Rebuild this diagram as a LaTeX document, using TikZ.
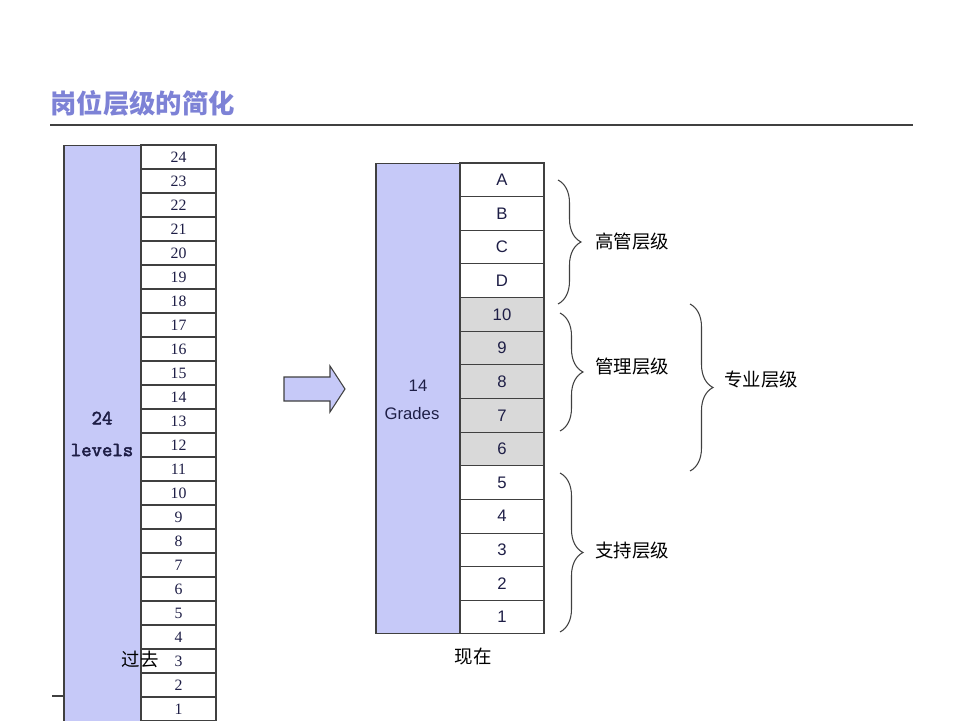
\documentclass[tikz,border=0pt]{standalone}
\usepackage{fontspec}
\usetikzlibrary{decorations.pathreplacing}
\newfontfamily\cjk{Noto Sans CJK SC}
\newfontfamily\numfont{Liberation Serif}
\newfontfamily\gradefont{Liberation Sans}
\newfontfamily\levelfont[FakeBold=2.5]{Latin Modern Mono}
\definecolor{barblue}{RGB}{198,201,248}
\definecolor{edge}{RGB}{64,64,64}
\definecolor{ink}{RGB}{30,30,70}
\definecolor{titleblue}{RGB}{125,130,214}
\definecolor{cellgrey}{RGB}{217,217,217}
\tikzset{
  bar/.style={draw=edge,fill=barblue,inner sep=0pt},
  oldcell/.style={draw=edge,fill=white,minimum width=1.5cm,minimum height=0.48cm,inner sep=0pt,
    text=ink,font=\numfont\fontsize{9}{9}\selectfont},
  newcell/.style={draw=edge,minimum width=1.68cm,minimum height=0.6728cm,inner sep=0pt,
    text=ink,font=\gradefont\fontsize{9.5}{10}\selectfont},
  grpbrace/.style={decorate,decoration={brace,amplitude=0.46cm},draw=edge,line width=0.6pt},
  grplabel/.style={anchor=west,inner sep=0pt,font=\cjk\fontsize{10.5}{12}\selectfont}
}
\begin{document}
\begin{tikzpicture}[x=0.02cm,y=-0.02cm,line width=0.6pt]
  \clip (0,0) rectangle (960,720);
  \fill[white] (0,0) rectangle (960,720);
  \node[anchor=west,inner sep=0pt,text=titleblue,font=\cjk\bfseries\fontsize{15}{18}\selectfont] (title) at (50,103) {岗位层级的简化};
  \draw[edge] (50,125) -- (913,125);
  \draw[edge] (52,696) -- (64,696);
  \node[bar,minimum width=1.54cm,minimum height=11.9cm] (oldbar) at (102.5,442.5) {};
  \foreach \n in {1,...,24} { \node[oldcell] (old\n) at (178.5,{145+(24.5-\n)*24}) {\n}; }
  \node[text=ink,font=\levelfont\fontsize{11.5}{12}\selectfont] (oldnum) at (102,418) {24};
  \node[text=ink,font=\levelfont\fontsize{11.5}{12}\selectfont] (oldunit) at (102,450) {levels};
  \node[font=\cjk\fontsize{10.5}{12}\selectfont] (past) at (140,659) {过去};
  \filldraw[fill=barblue,draw=edge] (284,377) -- (330,377) -- (330,366) -- (345,389) -- (330,412) -- (330,401) -- (284,401) -- cycle;
  \node[bar,minimum width=1.68cm,minimum height=9.42cm] (newbar) at (418,398.5) {};
  \foreach \g/\f [count=\i] in {A/white,B/white,C/white,D/white,10/cellgrey,9/cellgrey,8/cellgrey,7/cellgrey,6/cellgrey,5/white,4/white,3/white,2/white,1/white} {
    \node[newcell,fill=\f] (g\g) at (502,{163+(\i-0.5)*33.64}) {\g};
  }
  \node[text=ink,font=\gradefont\fontsize{9.5}{10}\selectfont] (newnum) at (418,386) {14};
  \node[text=ink,font=\gradefont\fontsize{9.5}{10}\selectfont] (newunit) at (412,414) {Grades};
  \node[font=\cjk\fontsize{10.5}{12}\selectfont] (now) at (473,657) {现在};
  \draw[grpbrace] (558,180) -- (558,304);
  \node[grplabel] (top) at (595,242) {高管层级};
  \draw[grpbrace] (560,313) -- (560,431);
  \node[grplabel] (mgmt) at (595,367) {管理层级};
  \draw[grpbrace] (560,473) -- (560,632);
  \node[grplabel] (supp) at (595,551) {支持层级};
  \draw[grpbrace] (690,304) -- (690,471);
  \node[grplabel] (prof) at (724,380) {专业层级};
\end{tikzpicture}
\end{document}
